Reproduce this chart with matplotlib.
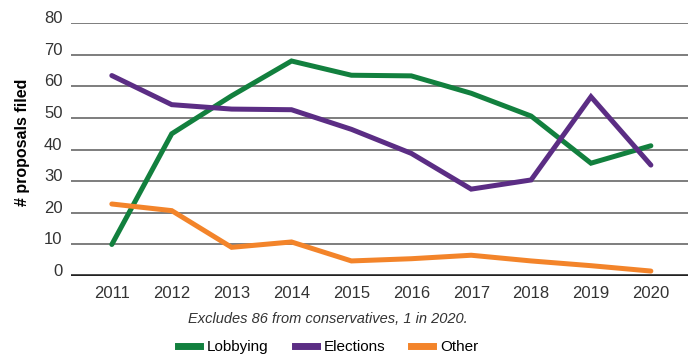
import matplotlib
matplotlib.use('Agg')
import matplotlib.pyplot as plt
import matplotlib.transforms as mtransforms
from matplotlib.lines import Line2D

plt.rcParams['font.family'] = ['Liberation Sans', 'DejaVu Sans']

years = [2011, 2012, 2013, 2014, 2015, 2016, 2017, 2018, 2019, 2020]
lobbying = [10, 45, 57, 68, 63.5, 63.3, 57.8, 50.6, 35.7, 41.2]
elections = [63.4, 54.2, 52.8, 52.6, 46.4, 38.8, 27.5, 30.4, 56.7, 35.1]
other = [22.8, 20.7, 9.1, 10.8, 4.8, 5.5, 6.6, 4.8, 3.3, 1.6]

series = [('Lobbying', lobbying, '#12803e'),
          ('Elections', elections, '#5b2d84'),
          ('Other', other, '#f3842a')]
yticks = list(range(0, 81, 10))

fig = plt.figure(figsize=(6.88, 3.6), dpi=100)
ax = fig.add_axes([0.103, 0.233, 0.897, 0.703])

for y in yticks[1:]:
    ax.axhline(y, color='#5a5a5a', lw=1.1, zorder=1)
ax.axhline(0, color='#222222', lw=2.6, zorder=1)

for name, vals, col in series:
    ax.plot(years, vals, color=col, lw=3.6, solid_capstyle='round',
            solid_joinstyle='miter', zorder=3, label=name)

ax.set_xlim(2010.316, 2020.62)
ax.set_ylim(0, 80)
ax.set_xticks(years)
ax.set_yticks(yticks)
for s in ax.spines.values():
    s.set_visible(False)
ax.tick_params(axis='both', length=0, labelsize=12, labelcolor='#333333')
ax.tick_params(axis='y', pad=6)
ax.tick_params(axis='x', pad=7)
# y labels sit a little above their gridline
off = mtransforms.ScaledTranslation(0, 6 / 100, fig.dpi_scale_trans)
for lab in ax.get_yticklabels():
    lab.set_transform(lab.get_transform() + off)

ax.set_ylabel('# proposals filed', fontsize=11.5, fontweight='bold')
ax.yaxis.set_label_coords(-0.066, 0.53)

fig.text(0.477, 0.113, 'Excludes 86 from conservatives, 1 in 2020.',
         ha='center', va='center', fontsize=10.5, style='italic', color='#333333')

handles = [Line2D([], [], color=c, lw=5) for _, _, c in series]
fig.legend(handles, [n for n, _, _ in series], loc='center',
           bbox_to_anchor=(0.477, 0.035), ncol=3, frameon=False,
           fontsize=11, handlelength=1.45, handletextpad=0.45, columnspacing=1.7)

fig.savefig('out.png', dpi=100)
